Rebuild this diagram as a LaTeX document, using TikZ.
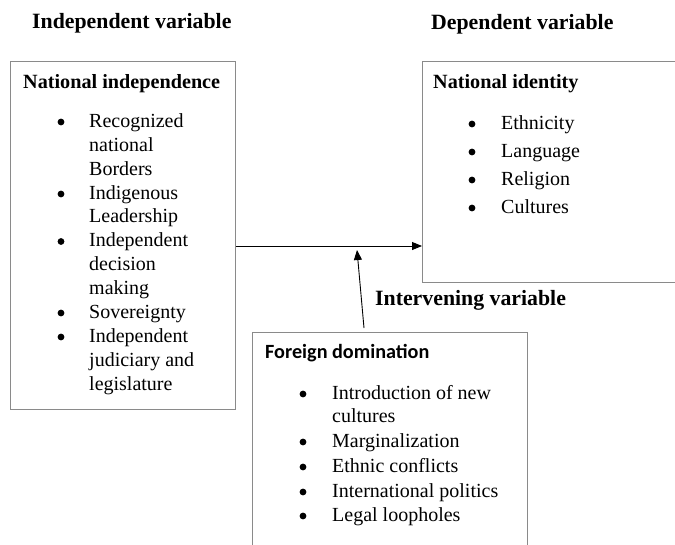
\documentclass[tikz,border=0pt]{standalone}
\usepackage{fontspec}
\setmainfont{Liberation Serif}
\newfontfamily\carlitofont{Carlito}
\usetikzlibrary{arrows.meta}
\definecolor{boxgray}{HTML}{8A8A8A}
\begin{document}
\begin{tikzpicture}[x=1pt,y=-1pt,
  box/.style={draw=boxgray, line width=1.3pt, inner sep=0pt, anchor=north west},
  txt/.style={anchor=base west, inner sep=0pt, font=\fontsize{20}{24}\selectfont},
  bul/.style={circle, fill=black, inner sep=0pt, minimum size=6.8pt, yshift=5pt},
  head/.style={anchor=base west, inner sep=0pt, font=\fontsize{21.8}{26}\selectfont\bfseries},
  sub/.style={anchor=base west, inner sep=0pt, font=\fontsize{20.2}{24}\selectfont\bfseries},
  subsans/.style={anchor=base west, inner sep=0pt, font=\fontsize{20.2}{24}\selectfont\carlitofont\bfseries},
  arr/.style={draw=black, line width=0.9pt, -{Triangle[length=10pt,width=8pt]}}]
\useasboundingbox (0,0) rectangle (675,544);
\clip (0,0) rectangle (675,544);
\fill[white] (0,0) rectangle (675,544);

% headings
\node[head] (hind) at (32,28) {Independent variable};
\node[head] (hdep) at (431,29) {Dependent variable};
\node[head] (hint) at (375,305) {Intervening variable};

% boxes
\node[box, minimum width=225.5pt, minimum height=348pt] (L) at (9.5,61) {};
\node[box, minimum width=290pt, minimum height=221pt] (R) at (422,61) {};
\node[box, minimum width=275pt, minimum height=240pt] (B) at (252,332) {};

% left box content
\node[sub] (ltitle) at (23,88) {National independence};
\node[bul] (lb1) at (61,127) {};
\node[txt] (l1) at (89,127) {Recognized};
\node[txt] (l2) at (89,151) {national};
\node[txt] (l3) at (89,175) {Borders};
\node[bul] (lb2) at (61,199) {};
\node[txt] (l4) at (89,199) {Indigenous};
\node[txt] (l5) at (89,222.5) {Leadership};
\node[bul] (lb3) at (61,246.5) {};
\node[txt] (l6) at (89,246.5) {Independent};
\node[txt] (l7) at (89,270.5) {decision};
\node[txt] (l8) at (89,294) {making};
\node[bul] (lb4) at (61,318) {};
\node[txt] (l9) at (89,318) {Sovereignty};
\node[bul] (lb5) at (61,342) {};
\node[txt] (l10) at (89,342) {Independent};
\node[txt] (l11) at (89,366) {judiciary and};
\node[txt] (l12) at (89,390) {legislature};

% right box content
\node[sub] (rtitle) at (433,88) {National identity};
\node[bul] (rb1) at (472,129) {};
\node[txt] (r1) at (501,129) {Ethnicity};
\node[bul] (rb2) at (472,157) {};
\node[txt] (r2) at (501,157) {Language};
\node[bul] (rb3) at (472,185) {};
\node[txt] (r3) at (501,185) {Religion};
\node[bul] (rb4) at (472,213) {};
\node[txt] (r4) at (501,213) {Cultures};

% bottom box content
\node[subsans] (btitle) at (265,358) {Foreign domination};
\node[bul] (bb1) at (303,399) {};
\node[txt] (b1) at (332,399) {Introduction of new};
\node[txt] (b2) at (332,422.5) {cultures};
\node[bul] (bb2) at (303,447) {};
\node[txt] (b3) at (332,447) {Marginalization};
\node[bul] (bb3) at (303,472) {};
\node[txt] (b4) at (332,472) {Ethnic conflicts};
\node[bul] (bb4) at (303,497) {};
\node[txt] (b5) at (332,497) {International politics};
\node[bul] (bb5) at (303,521) {};
\node[txt] (b6) at (332,521) {Legal loopholes};

% connectors
\coordinate (hy) at (0,246);
\draw[arr] (L.east |- hy) -- (R.west |- hy);
\coordinate (vs) at (364,328);
\coordinate (ve) at (357,250);
\draw[arr] (vs) -- (ve);
\end{tikzpicture}
\end{document}
